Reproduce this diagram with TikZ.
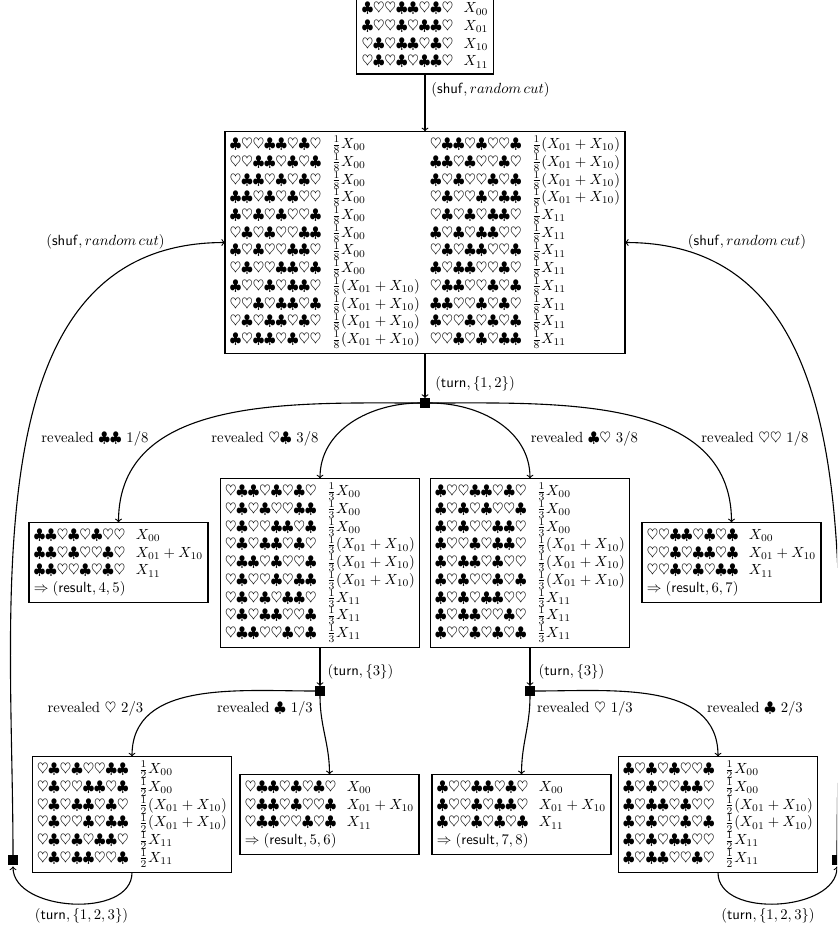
\documentclass[tikz,border=0pt]{standalone}
\usepackage{array}
\makeatletter
\def\cdsloop#1{\ifx#1\relax\else\ifx#1c\clubsuit\else\heartsuit\fi\expandafter\cdsloop\fi}
\newcommand\cds[1]{$\cdsloop#1\relax$}
\makeatother
\newcommand\fa[1]{$\frac{1}{#1}X_{00}$}
\newcommand\fb[1]{$\frac{1}{#1}(X_{01}+X_{10})$}
\newcommand\fc[1]{$\frac{1}{#1}X_{11}$}
\newcolumntype{G}{@{\hspace{7pt}}}
\tikzset{
  x=0.68pt,y=-0.68pt,
  statebox/.style={draw,line width=0.8pt,fill=white,inner sep=3.33pt,outer sep=0pt},
  gate/.style={fill=black,minimum size=6.8pt,inner sep=0pt,outer sep=0pt},
  lab/.style={inner sep=0pt,outer sep=0pt},
  conn/.style={line width=0.75pt,->},
}
\begin{document}
\begin{tikzpicture}
\useasboundingbox (0,0) rectangle (837,931);
\clip (0,0) rectangle (837,931);

\node[statebox] (top) at (425,34.8) {\raisebox{0pt}[\height][\dimexpr\depth-1.4pt]{\begin{tabular}{@{}lGl@{}}
\cds{chhcchch} & $X_{00}$\\
\cds{chhchcch} & $X_{01}$\\
\cds{hchcchch} & $X_{10}$\\
\cds{hchchcch} & $X_{11}$
\end{tabular}}};

\node[statebox] (big) at (425,242.5) {\begin{tabular}{@{}lGlGlGl@{}}
\cds{chhcchch} & \fa8 & \cds{hcchchhc} & \fb8\\
\cds{hhcchchc} & \fa8 & \cds{cchchhch} & \fb8\\
\cds{hcchchch} & \fa8 & \cds{chchhchc} & \fb8\\
\cds{cchchchh} & \fa8 & \cds{hchhchcc} & \fb8\\
\cds{chchchhc} & \fa8 & \cds{hchchcch} & \fc8\\
\cds{hchchhcc} & \fa8 & \cds{chchcchh} & \fc8\\
\cds{chchhcch} & \fa8 & \cds{hchcchhc} & \fc8\\
\cds{hchhcchc} & \fa8 & \cds{chcchhch} & \fc8\\
\cds{chhchcch} & \fb8 & \cds{hcchhchc} & \fc8\\
\cds{hhchcchc} & \fb8 & \cds{cchhchch} & \fc8\\
\cds{hchcchch} & \fb8 & \cds{chhchchc} & \fc8\\
\cds{chcchchh} & \fb8 & \cds{hhchchcc} & \fc8
\end{tabular}};

\node[statebox] (fl) at (118.5,562.5) {\begin{tabular}{@{}lGl@{}}
\cds{cchchchh} & $X_{00}$\\
\cds{cchchhch} & $X_{01}+X_{10}$\\
\cds{cchhchch} & $X_{11}$\\
$\Rightarrow(\mathsf{result},4,5)$ &
\end{tabular}};

\node[statebox] (fr) at (731.5,562.5) {\begin{tabular}{@{}lGl@{}}
\cds{hhcchchc} & $X_{00}$\\
\cds{hhchcchc} & $X_{01}+X_{10}$\\
\cds{hhchchcc} & $X_{11}$\\
$\Rightarrow(\mathsf{result},6,7)$ &
\end{tabular}};

\node[statebox] (ml) at (320,563) {\begin{tabular}{@{}lGl@{}}
\cds{hcchchch} & \fa3\\
\cds{hchchhcc} & \fa3\\
\cds{hchhcchc} & \fa3\\
\cds{hchcchch} & \fb3\\
\cds{hcchchhc} & \fb3\\
\cds{hchhchcc} & \fb3\\
\cds{hchchcch} & \fc3\\
\cds{hchcchhc} & \fc3\\
\cds{hcchhchc} & \fc3
\end{tabular}};

\node[statebox] (mr) at (530,563) {\begin{tabular}{@{}lGl@{}}
\cds{chhcchch} & \fa3\\
\cds{chchchhc} & \fa3\\
\cds{chchhcch} & \fa3\\
\cds{chhchcch} & \fb3\\
\cds{chcchchh} & \fb3\\
\cds{chchhchc} & \fb3\\
\cds{chchcchh} & \fc3\\
\cds{chcchhch} & \fc3\\
\cds{chhchchc} & \fc3
\end{tabular}};

\node[statebox] (ll) at (132,814.5) {\begin{tabular}{@{}lGl@{}}
\cds{hchchhcc} & \fa2\\
\cds{hchhcchc} & \fa2\\
\cds{hchcchch} & \fb2\\
\cds{hchhchcc} & \fb2\\
\cds{hchchcch} & \fc2\\
\cds{hchcchhc} & \fc2
\end{tabular}};

\node[statebox] (lm) at (329.5,814.5) {\begin{tabular}{@{}lGl@{}}
\cds{hcchchch} & $X_{00}$\\
\cds{hcchchhc} & $X_{01}+X_{10}$\\
\cds{hcchhchc} & $X_{11}$\\
$\Rightarrow(\mathsf{result},5,6)$ &
\end{tabular}};

\node[statebox] (rm) at (521.5,814.5) {\begin{tabular}{@{}lGl@{}}
\cds{chhcchch} & $X_{00}$\\
\cds{chhchcch} & $X_{01}+X_{10}$\\
\cds{chhchchc} & $X_{11}$\\
$\Rightarrow(\mathsf{result},7,8)$ &
\end{tabular}};

\node[statebox] (lr) at (718,814.5) {\begin{tabular}{@{}lGl@{}}
\cds{chchchhc} & \fa2\\
\cds{chchhcch} & \fa2\\
\cds{chcchchh} & \fb2\\
\cds{chchhchc} & \fb2\\
\cds{chchcchh} & \fc2\\
\cds{chcchhch} & \fc2
\end{tabular}};

\node[gate] (g0) at (425,403) {};
\node[gate] (gl) at (320,691) {};
\node[gate] (gr) at (530,691) {};
\node[gate] (sl) at (13,860) {};
\node[gate] (sr) at (837,860) {};

\draw[conn] (top) -- (big);
\draw[conn] (big) -- (g0);
\draw[conn] (ml) -- (gl);
\draw[conn] (mr) -- (gr);
\draw[conn] (g0.west) to[out=180,in=90] (fl.north);
\draw[conn] (g0.west) to[out=180,in=90] (ml.north);
\draw[conn] (g0.east) to[out=0,in=90] (mr.north);
\draw[conn] (g0.east) to[out=0,in=90] (fr.north);
\draw[conn] (gl.west) to[out=180,in=90] (ll.north);
\draw[conn] (gl.south) to[out=-90,in=90] (lm.north);
\draw[conn] (gr.south) to[out=-90,in=90] (rm.north);
\draw[conn] (gr.east) to[out=0,in=90] (lr.north);
\draw[conn,shorten >=1pt] (ll.south) to[out=-90,in=-90] (sl.south);
\draw[conn,shorten >=1pt] (lr.south) to[out=-90,in=-90] (sr.south);
\draw[conn] (sl.north) to[out=90,in=180] (big.west);
\draw[conn] (sr.north) to[out=90,in=0] (big.east);

\node[lab] (t1) at (490.5,90) {$(\mathsf{shuf},random\,cut)$};
\node[lab] (t2) at (105.5,242) {$(\mathsf{shuf},random\,cut)$};
\node[lab] (t3) at (747,242) {$(\mathsf{shuf},random\,cut)$};
\node[lab] (t4) at (475,384) {$(\mathsf{turn},\{1,2\})$};
\node[lab] (t5) at (360.5,672) {$(\mathsf{turn},\{3\})$};
\node[lab] (t6) at (571.5,672) {$(\mathsf{turn},\{3\})$};
\node[lab] (t7) at (81.5,916) {$(\mathsf{turn},\{1,2,3\})$};
\node[lab] (t8) at (768,916) {$(\mathsf{turn},\{1,2,3\})$};

\node[lab] (r1) at (95,439) {revealed $\clubsuit\clubsuit$ $1/8$};
\node[lab] (r2) at (265,439) {revealed $\heartsuit\clubsuit$ $3/8$};
\node[lab] (r3) at (584.5,439) {revealed $\clubsuit\heartsuit$ $3/8$};
\node[lab] (r4) at (755,439) {revealed $\heartsuit\heartsuit$ $1/8$};
\node[lab] (r5) at (95.5,709) {revealed $\heartsuit$ $2/3$};
\node[lab] (r6) at (265,709) {revealed $\clubsuit$ $1/3$};
\node[lab] (r7) at (585,709) {revealed $\heartsuit$ $1/3$};
\node[lab] (r8) at (755,709) {revealed $\clubsuit$ $2/3$};
\end{tikzpicture}
\end{document}
